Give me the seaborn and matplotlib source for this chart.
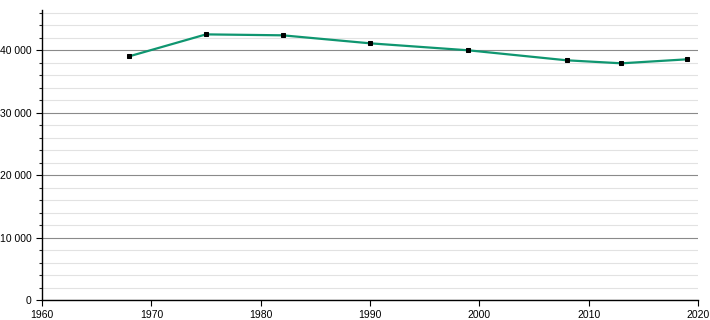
import matplotlib
matplotlib.use("Agg")
import matplotlib.pyplot as plt
import matplotlib.ticker as mticker
import seaborn as sns
import pandas as pd

years = [1968, 1975, 1982, 1990, 1999, 2008, 2013, 2019]
population = [39000, 42500, 42350, 41070, 39950, 38350, 37870, 38510]
x_ticks = [1960, 1970, 1980, 1990, 2000, 2010, 2020]

df = pd.DataFrame({"year": years, "pop": population})

sns.set_style("white")
plt.rcParams["font.family"] = ["Liberation Sans", "DejaVu Sans"]

fig = plt.figure(figsize=(7.1, 3.2), dpi=100)
ax = fig.add_axes([42/710, 20/320, (698-42)/710, (310-20)/320])

sns.lineplot(data=df, x="year", y="pop", ax=ax, color="#0f9670", linewidth=1.6,
             marker="s", markersize=3.3, markerfacecolor="black", markeredgecolor="black",
             zorder=3)

ax.set_xlim(1960, 2020)
ax.set_ylim(0, 46400)
ax.set_xticks(x_ticks)
ax.yaxis.set_major_locator(mticker.MultipleLocator(10000))
ax.yaxis.set_minor_locator(mticker.MultipleLocator(2000))
ax.yaxis.set_major_formatter(mticker.FuncFormatter(lambda v, p: f"{int(v):,}".replace(",", " ")))

ax.grid(which="major", axis="y", color="#8a8a8a", linewidth=0.8)
ax.grid(which="minor", axis="y", color="#e2e2e2", linewidth=0.8)
ax.grid(False, axis="x")
ax.set_axisbelow(True)

for s in ["top", "right"]:
    ax.spines[s].set_visible(False)
for s in ["left", "bottom"]:
    ax.spines[s].set_color("black")
    ax.spines[s].set_linewidth(1.0)

ax.tick_params(axis="both", which="major", direction="out", length=4, width=0.8,
               labelsize=7.5, colors="black", left=True, bottom=True)
ax.tick_params(axis="y", which="minor", direction="out", length=2.5, width=0.8, left=True)
ax.set_xlabel("")
ax.set_ylabel("")

fig.savefig("out.png", dpi=100)
